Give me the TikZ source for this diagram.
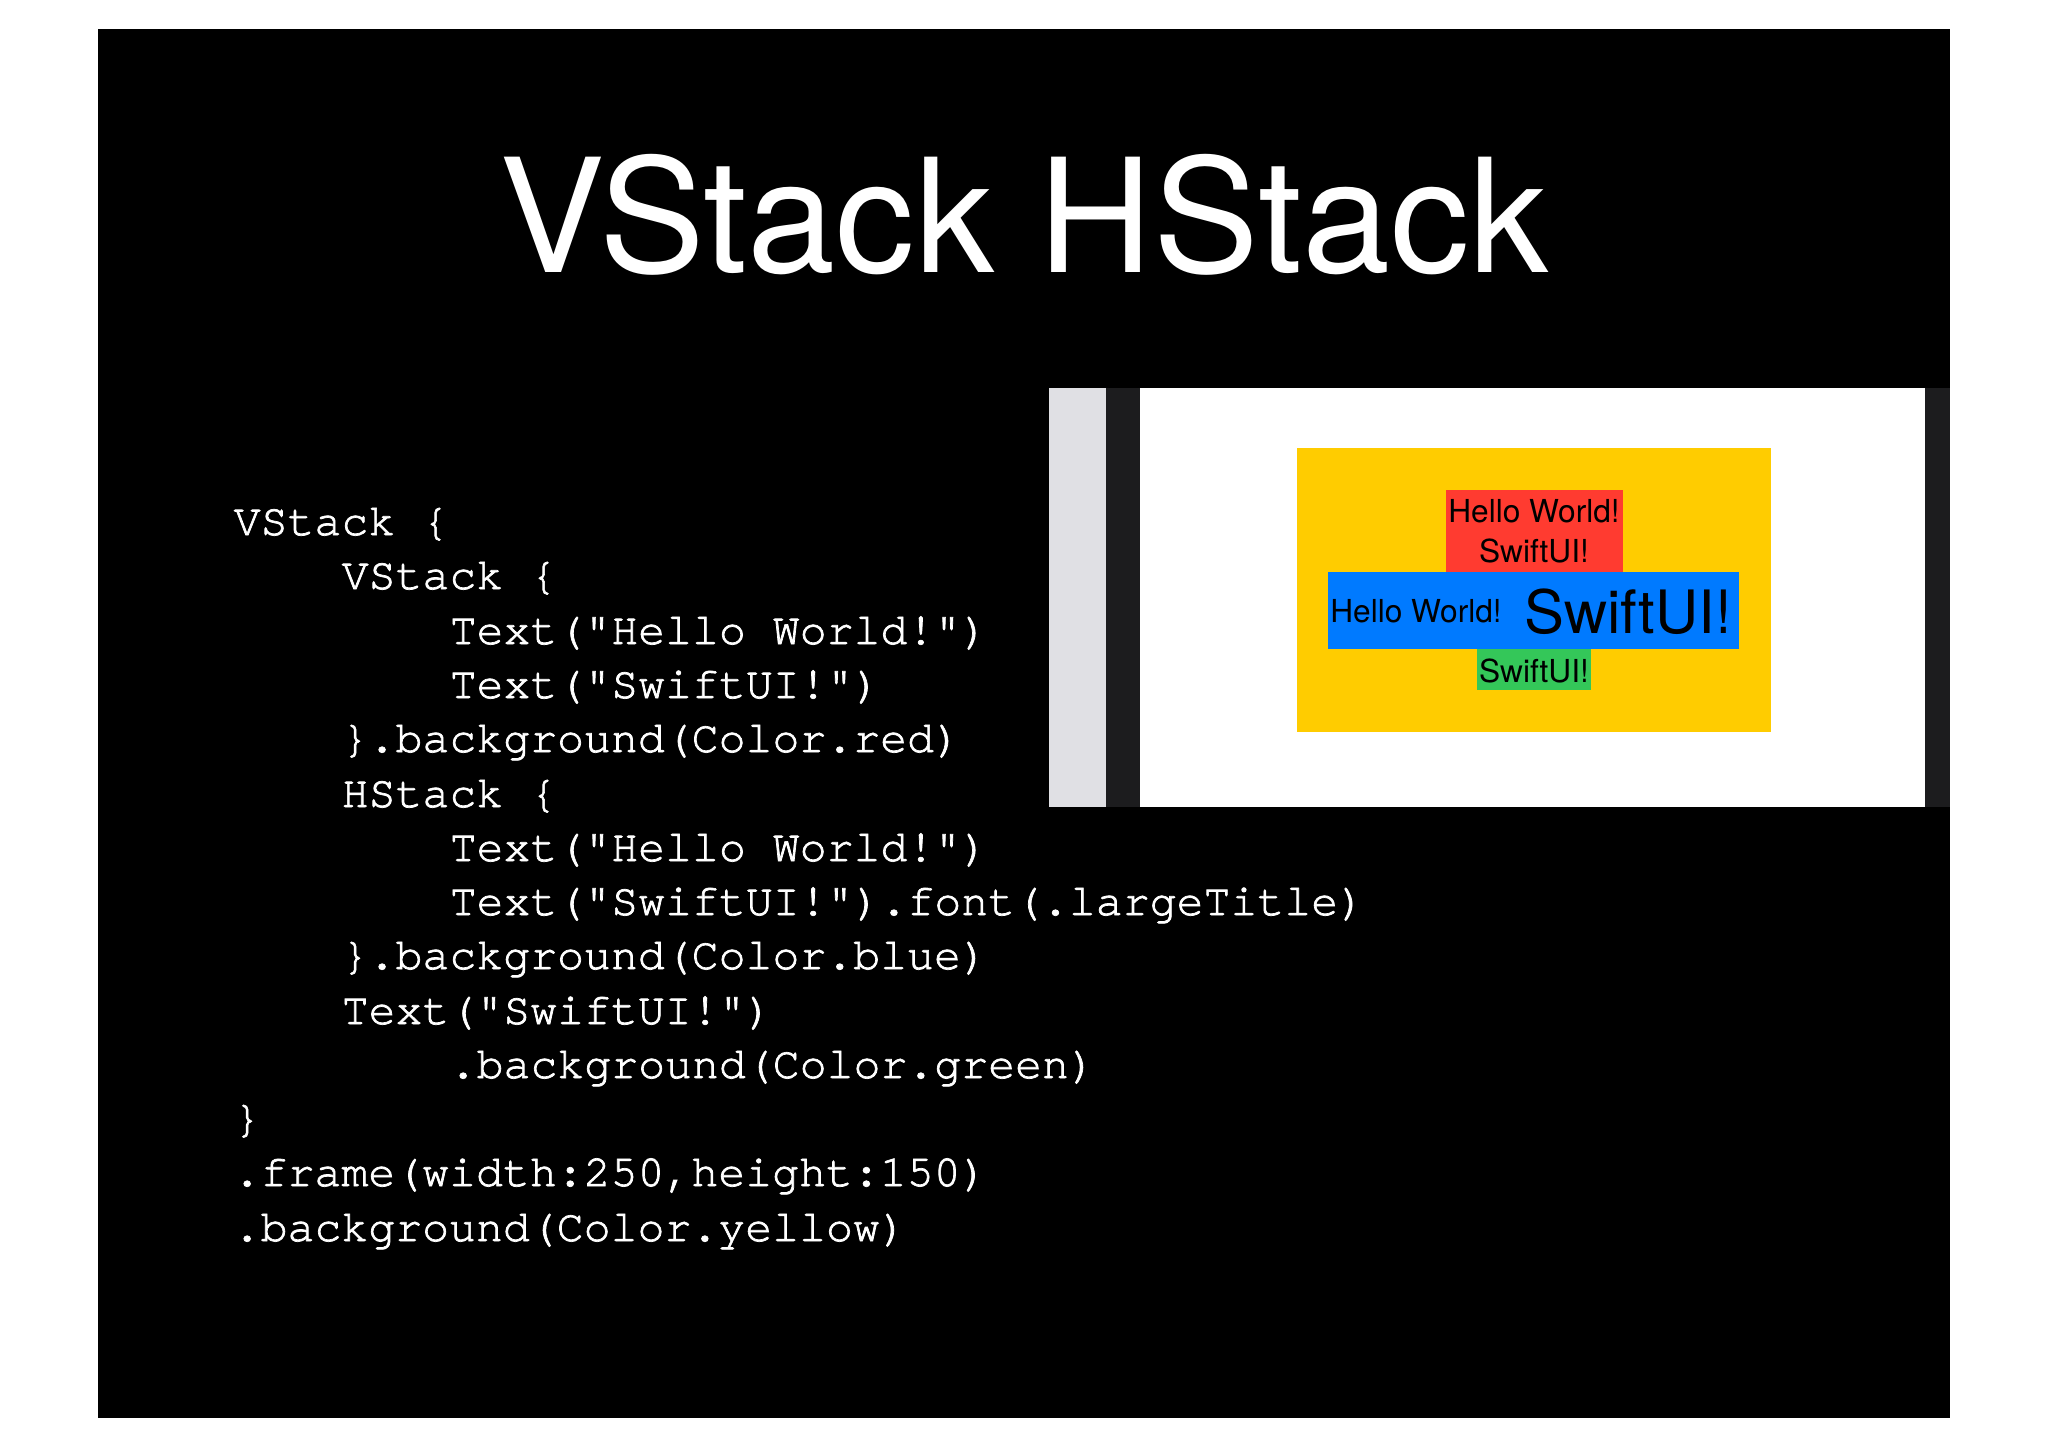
\documentclass[tikz,border=0pt]{standalone}
\usepackage{fontspec}
\setmainfont{TeX Gyre Heros}
\newfontfamily\codefamily[FakeBold=1.6]{TeX Gyre Cursor}
\usepackage{tikz}
\definecolor{sidegray}{HTML}{E0E0E4}
\definecolor{sidedark}{HTML}{1C1C1E}
\definecolor{uiyellow}{HTML}{FFCC00}
\definecolor{uired}{HTML}{FF3B30}
\definecolor{uiblue}{HTML}{007AFF}
\definecolor{uigreen}{HTML}{34C759}
\newcommand{\codefont}{\codefamily\fontsize{12.76}{15}\selectfont}
\tikzstyle{code}=[anchor=base west,inner sep=0pt,text=white,font=\codefont]
\tikzstyle{ui}=[anchor=base,inner sep=0pt,text=black,font=\fontsize{9}{10}\selectfont]
\tikzstyle{uibig}=[anchor=base,inner sep=0pt,text=black,font=\fontsize{17}{19}\selectfont]

\begin{document}
\begin{tikzpicture}[x=0.01cm,y=-0.01cm]
    \useasboundingbox (0,0) rectangle (2048,1448);
    \fill[white] (0,0) rectangle (2048,1448);
    \fill[black] (98,29) rectangle (1950,1418);
    % title
    \node[anchor=base,inner sep=0pt,text=white,font=\fontsize{45}{50}\selectfont] (title) at (1024,272) {VStack HStack};
    % code
    \node[code] (c1) at (233,535) {VStack \{};
    \node[code] (c2) at (341,589) {VStack \{};
    \node[code] (c3) at (449,644) {Text("Hello World!")};
    \node[code] (c4) at (449,698) {Text("SwiftUI!")};
    \node[code] (c5) at (341,752) {\}.background(Color.red)};
    \node[code] (c6) at (341,807) {HStack \{};
    \node[code] (c7) at (449,861) {Text("Hello World!")};
    \node[code] (c8) at (449,915) {Text("SwiftUI!").font(.largeTitle)};
    \node[code] (c9) at (341,969) {\}.background(Color.blue)};
    \node[code] (c10) at (341,1024) {Text("SwiftUI!")};
    \node[code] (c11) at (449,1078) {.background(Color.green)};
    \node[code] (c12) at (233,1132) {\}};
    \node[code] (c13) at (233,1186) {.frame(width:250,height:150)};
    \node[code] (c14) at (233,1241) {.background(Color.yellow)};
    % preview
    \fill[sidegray] (1049,388) rectangle (1106,807);
    \fill[sidedark] (1106,388) rectangle (1140,807);
    \fill[white] (1140,388) rectangle (1925,807);
    \fill[sidedark] (1925,388) rectangle (1950,807);
    \fill[uiyellow] (1297,448) rectangle (1771,732);
    \fill[uired] (1446,490) rectangle (1623,572);
    \fill[uiblue] (1328,572) rectangle (1739,649);
    \fill[uigreen] (1477,649) rectangle (1591,690);
    \node[ui] (rhello) at (1534,522) {Hello World!};
    \node[ui] (rswift) at (1534,562) {SwiftUI!};
    \node[ui] (bhello) at (1416,622) {Hello World!};
    \node[uibig] (bswift) at (1628,633) {SwiftUI!};
    \node[ui] (gswift) at (1534,682) {SwiftUI!};
\end{tikzpicture}
\end{document}
